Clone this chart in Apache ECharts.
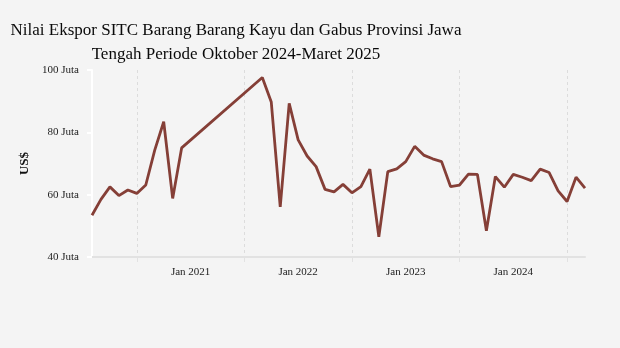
<!DOCTYPE html>
<html>
<head>
<meta charset="utf-8">
<script src="https://cdn.jsdelivr.net/npm/echarts@6/dist/echarts.min.js"></script>
<style>
html,body{margin:0;padding:0;background:#f4f4f4;}
#chart{width:620px;height:348px;}
</style>
</head>
<body>
<div id="chart"></div>
<script>
const titleText = 'Nilai Ekspor SITC Barang Barang Kayu dan Gabus Provinsi Jawa\nTengah Periode Oktober 2024-Maret 2025';
const yAxisName = 'US$';
const months = ['2020-02','2020-03','2020-04','2020-05','2020-06','2020-07','2020-08','2020-09','2020-10','2020-11','2020-12',
  '2021-09','2021-10','2021-11','2021-12',
  '2022-01','2022-02','2022-03','2022-04','2022-05','2022-06','2022-07','2022-08','2022-09','2022-10','2022-11','2022-12',
  '2023-01','2023-02','2023-03','2023-04','2023-05','2023-06','2023-07','2023-08','2023-09','2023-10','2023-11','2023-12',
  '2024-01','2024-02','2024-03','2024-04','2024-05','2024-06','2024-07','2024-08','2024-09'];
const values = [53.4,58.5,62.5,59.7,61.5,60.4,63.1,74.3,83.4,58.8,75.0,
  97.6,89.7,56.1,89.3,
  77.6,72.4,69.0,61.7,60.9,63.3,60.6,62.6,68.2,46.5,67.4,68.3,
  70.6,75.5,72.7,71.5,70.6,62.6,63.1,66.6,66.5,48.4,65.8,62.4,
  66.5,65.6,64.5,68.2,67.1,61.2,57.8,65.6,62.1];
const yTicks = [40,60,80,100];
const xLabelMonths = ['2021-01','2022-01','2023-01','2024-01'];
const xGridMonths = ['2020-07','2021-07','2022-07','2023-07','2024-07'];

// month index counted from Jan 2020
function mi(m){ const p = m.split('-'); return (+p[0]-2020)*12 + (+p[1]-1); }

const chart = echarts.init(document.getElementById('chart'), null, {renderer:'canvas'});
chart.setOption({
  backgroundColor:'#f4f4f4',
  animation:false,
  title:{
    text:titleText,
    left:231, top:14,
    textAlign:'center',
    textStyle:{fontFamily:'Liberation Serif', fontSize:17, fontWeight:'normal', color:'#0a0a0a', lineHeight:24}
  },
  grid:{left:92, right:35, top:70, bottom:91, containLabel:false},
  xAxis:{
    type:'value',
    min:mi(months[0]), max:mi(months[months.length-1]),
    axisLine:{show:true, onZero:false, lineStyle:{color:'#e2e2e2', width:2}},
    axisTick:{show:true, customValues:xGridMonths.map(mi), length:5, lineStyle:{color:'#e2e2e2', width:1}},
    axisLabel:{customValues:xLabelMonths.map(mi), formatter:function(v){return 'Jan '+(2020+Math.floor(v/12));},
      fontFamily:'Liberation Serif', fontSize:11, color:'#222', margin:10},
    splitLine:{show:true, lineStyle:{color:'#dcdcdc', type:[3,3], width:1}}
  },
  yAxis:{
    type:'value', min:yTicks[0], max:yTicks[yTicks.length-1], interval:20,
    name:yAxisName, nameLocation:'middle', nameRotate:90, nameGap:60,
    nameTextStyle:{fontFamily:'Liberation Serif', fontSize:13, fontWeight:'bold', color:'#111'},
    axisLine:{show:true, lineStyle:{color:'#ffffff', width:2}},
    axisTick:{show:true, length:5, lineStyle:{color:'#ffffff', width:2}},
    axisLabel:{formatter:function(v){return v+' Juta';}, fontFamily:'Liberation Serif', fontSize:11, color:'#222', margin:13},
    splitLine:{show:false}
  },
  series:[{
    type:'line',
    data:months.map(function(m,i){return [mi(m), values[i]];}),
    showSymbol:false,
    symbol:'none',
    lineStyle:{color:'#853f37', width:2.8},
    itemStyle:{color:'#853f37'}
  }]
});
</script>
</body>
</html>
